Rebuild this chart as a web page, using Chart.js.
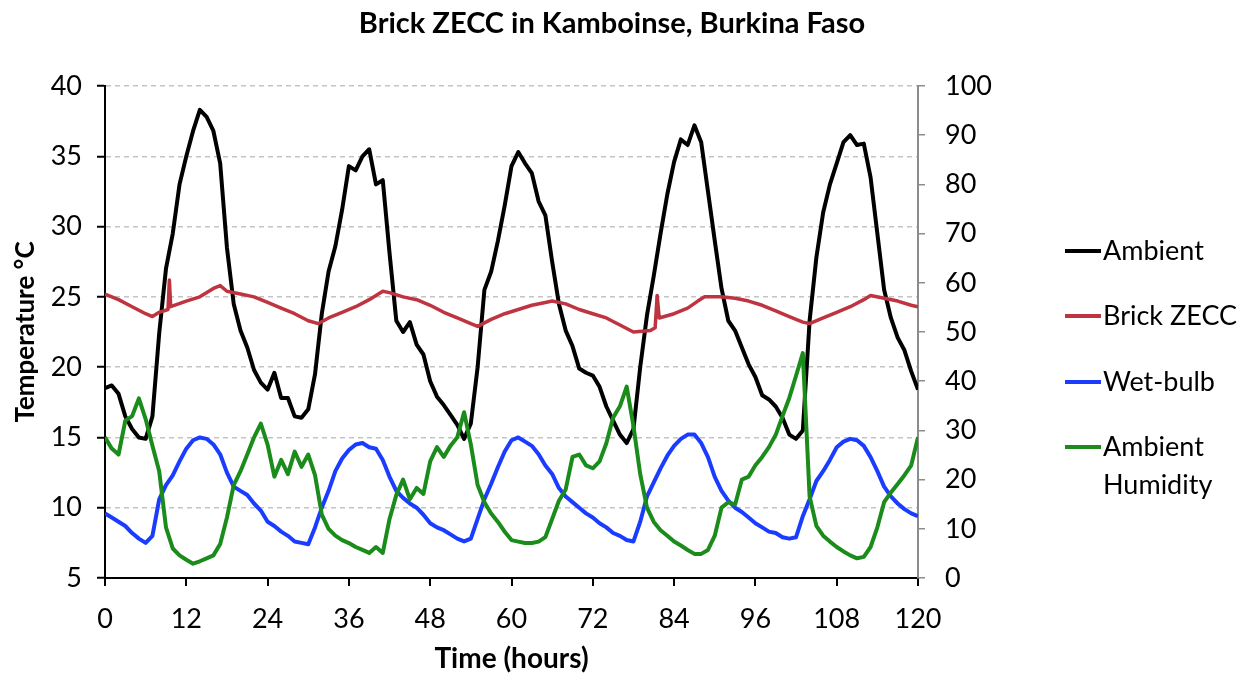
<!DOCTYPE html>
<html>
<head>
<meta charset="utf-8">
<script src="https://cdn.jsdelivr.net/npm/chart.js@4.4.1/dist/chart.umd.min.js"></script>
<style>
  html, body { margin: 0; padding: 0; background: #fff; }
  #wrap { width: 1246px; height: 677px; position: relative; }
</style>
</head>
<body>
<div id="wrap"><canvas id="chartZecc"></canvas></div>
<script>
const chartTitle = 'Brick ZECC in Kamboinse, Burkina Faso';
const seriesNames = ['Ambient', 'Brick ZECC', 'Wet-bulb', 'Ambient Humidity'];
const seriesColors = ['#000000', '#be3440', '#1a3cff', '#1b8c1b'];

// hourly readings, 0..120 h
const hours = Array.from({ length: 121 }, (_, i) => i);

const ambientTemp = [
    18.5, 18.7, 18.1, 16.5, 15.6, 15.0, 14.9, 16.5, 22.4, 27.0,
    29.5, 33.0, 35.0, 36.8, 38.3, 37.8, 36.8, 34.5, 28.5, 24.5,
    22.6, 21.4, 19.8, 18.9, 18.4, 19.6, 17.8, 17.8, 16.5, 16.4,
    17.0, 19.5, 23.8, 26.8, 28.6, 31.2, 34.3, 34.0, 35.0, 35.5,
    33.0, 33.3, 28.1, 23.3, 22.5, 23.2, 21.6, 20.9, 19.0, 17.9,
    17.3, 16.6, 15.9, 14.9, 16.0, 20.0, 25.5, 26.8, 29.0, 31.5,
    34.3, 35.3, 34.5, 33.8, 31.8, 30.8, 27.5, 24.5, 22.6, 21.5,
    19.9, 19.6, 19.4, 18.6, 17.2, 16.2, 15.2, 14.6, 15.6, 20.0,
    23.7, 26.5, 29.5, 32.3, 34.6, 36.2, 35.8, 37.2, 36.0, 32.5,
    29.0, 25.6, 23.3, 22.6, 21.4, 20.2, 19.3, 18.0, 17.7, 17.2,
    16.4, 15.2, 14.9, 15.5, 23.3, 27.8, 31.0, 33.0, 34.5, 36.0,
    36.5, 35.8, 35.9, 33.5, 29.5, 25.5, 23.5, 22.1, 21.2, 19.7,
    18.4
];

const wetBulbTemp = [
    9.6, 9.3, 9.0, 8.7, 8.2, 7.8, 7.5, 8.0, 10.6, 11.6,
    12.3, 13.3, 14.2, 14.8, 15.0, 14.9, 14.5, 13.8, 12.5, 11.5,
    11.2, 10.9, 10.3, 9.8, 9.0, 8.7, 8.3, 8.0, 7.6, 7.5,
    7.4, 8.6, 10.0, 11.2, 12.6, 13.5, 14.1, 14.5, 14.6, 14.3,
    14.2, 13.4, 12.2, 11.2, 10.7, 10.3, 10.0, 9.5, 8.9, 8.6,
    8.4, 8.1, 7.8, 7.6, 7.8, 9.2, 10.6, 11.7, 12.9, 14.0,
    14.8, 15.0, 14.7, 14.4, 13.8, 13.0, 12.4, 11.4, 10.8, 10.4,
    10.0, 9.6, 9.3, 8.9, 8.6, 8.2, 8.0, 7.7, 7.6, 9.0,
    10.8, 11.8, 12.8, 13.7, 14.4, 14.9, 15.2, 15.2, 14.6, 13.6,
    12.2, 11.2, 10.5, 10.0, 9.7, 9.3, 8.9, 8.6, 8.3, 8.2,
    7.9, 7.8, 7.9, 9.4, 10.6, 11.9, 12.6, 13.4, 14.3, 14.7,
    14.9, 14.8, 14.4, 13.6, 12.6, 11.5, 10.8, 10.3, 9.9, 9.6,
    9.4
];

// relative humidity, % (right axis)
const ambientHumidity = [
    28.6, 26.3, 25.1, 32.0, 32.9, 36.5, 32.3, 26.9, 21.7, 10.3,
    6.0, 4.6, 3.7, 2.9, 3.4, 4.0, 4.6, 6.9, 12.3, 18.9,
    21.7, 25.1, 28.6, 31.4, 27.1, 20.6, 24.0, 21.1, 25.7, 22.6,
    25.1, 20.9, 12.9, 10.0, 8.6, 7.7, 7.1, 6.3, 5.7, 5.1,
    6.3, 5.1, 12.0, 16.9, 20.0, 16.0, 18.3, 17.1, 23.7, 26.6,
    24.6, 26.9, 28.6, 33.7, 27.1, 18.9, 15.4, 13.1, 11.4, 9.4,
    7.7, 7.4, 7.1, 7.1, 7.4, 8.3, 12.0, 15.7, 18.0, 24.6,
    25.1, 22.9, 22.3, 23.7, 27.4, 32.6, 34.9, 38.9, 30.9, 21.1,
    14.3, 11.4, 9.7, 8.6, 7.4, 6.6, 5.7, 4.9, 4.9, 5.7,
    8.6, 14.3, 15.4, 14.9, 20.0, 20.6, 22.9, 24.6, 26.6, 29.1,
    32.9, 36.6, 41.1, 45.7, 16.6, 10.6, 8.6, 7.4, 6.3, 5.4,
    4.6, 4.0, 4.3, 6.3, 10.3, 15.4, 17.4, 19.1, 20.9, 22.9,
    28.6
];

// brick ZECC logged on its own time base (spikes when opened)
const brickHours = [
    0, 2, 4, 6, 7, 8, 9.3, 9.5, 9.7, 12, 14, 16, 17, 18, 20, 22, 24, 26, 28, 30,
    31.5, 33, 35, 37, 39, 41, 42, 44, 46, 48, 50, 52, 54, 55, 57, 59, 61, 63, 65, 66,
    68, 70, 72, 74, 76, 78, 80.5, 81.2, 81.5, 81.8, 84, 86, 87.5, 88.5, 91, 93, 95, 97, 99, 101,
    103, 104, 106, 108, 110, 112, 113, 115, 117, 119, 120
];
const brickTemp = [
    25.2, 24.8, 24.3, 23.8, 23.6, 23.9, 24.1, 26.2, 24.3, 24.7, 25.0, 25.6, 25.8, 25.4, 25.2, 25.0, 24.6, 24.2, 23.8, 23.3,
    23.1, 23.5, 23.9, 24.3, 24.8, 25.4, 25.3, 25.0, 24.8, 24.4, 23.9, 23.5, 23.1, 22.9, 23.4, 23.8, 24.1, 24.4, 24.6, 24.7,
    24.5, 24.1, 23.8, 23.5, 23.0, 22.5, 22.6, 22.8, 25.1, 23.5, 23.8, 24.2, 24.7, 25.0, 25.0, 24.9, 24.7, 24.4, 24.0, 23.6,
    23.2, 23.1, 23.5, 23.9, 24.3, 24.8, 25.1, 24.9, 24.7, 24.4, 24.3
];

const toPoints = (xs, ys) => xs.map((x, i) => ({ x: x, y: ys[i] }));

const lineStyle = (i, width) => ({
    borderColor: seriesColors[i],
    backgroundColor: seriesColors[i],
    borderWidth: width,
    pointRadius: 0,
    tension: 0,
    borderJoinStyle: 'round',
    fill: false
});

const baseFont = { family: 'Lato', size: 27 };
const boldFont = { family: 'Lato', size: 28, weight: 'bold' };

// title + legend drawn by hand (legend has a wrapped label)
const extras = {
    id: 'extras',
    afterDraw(chart) {
        const ctx = chart.ctx;
        ctx.save();
        ctx.fillStyle = '#000';
        ctx.font = 'bold 29px Lato';
        ctx.textAlign = 'center';
        ctx.textBaseline = 'middle';
        ctx.fillText(chartTitle, 612, 24);

        const rows = [251, 316, 382, 447];
        ctx.font = '27px Lato';
        ctx.textAlign = 'left';
        seriesNames.forEach((name, i) => {
            const y = rows[i];
            ctx.strokeStyle = seriesColors[i];
            ctx.lineWidth = 4;
            ctx.beginPath();
            ctx.moveTo(1065, y);
            ctx.lineTo(1101, y);
            ctx.stroke();
            const parts = name === 'Ambient Humidity' ? ['Ambient', 'Humidity'] : [name];
            parts.forEach((p, k) => ctx.fillText(p, 1103, y + k * 38));
        });
        ctx.restore();
    }
};

new Chart(document.getElementById('chartZecc'), {
    type: 'line',
    data: {
        datasets: [
            { label: seriesNames[0], data: toPoints(hours, ambientTemp), yAxisID: 'y', order: 4, ...lineStyle(0, 4) },
            { label: seriesNames[1], data: toPoints(brickHours, brickTemp), yAxisID: 'y', order: 3, ...lineStyle(1, 3.5) },
            { label: seriesNames[2], data: toPoints(hours, wetBulbTemp), yAxisID: 'y', order: 2, ...lineStyle(2, 4) },
            { label: seriesNames[3], data: toPoints(hours, ambientHumidity), yAxisID: 'y1', order: 1, ...lineStyle(3, 4) }
        ]
    },
    options: {
        responsive: true,
        maintainAspectRatio: false,
        animation: false,
        layout: { padding: { top: 86, left: 10, right: 248, bottom: 0 } },
        plugins: {
            legend: { display: false },
            tooltip: { enabled: false }
        },
        scales: {
            x: {
                type: 'linear',
                min: 0,
                max: 120,
                ticks: { stepSize: 12, color: '#000', font: baseFont, padding: 17, maxRotation: 0 },
                grid: { drawOnChartArea: false, color: '#000', tickLength: 8, lineWidth: 2 },
                border: { color: '#000', width: 2 },
                title: { display: true, text: 'Time (hours)', color: '#000', font: boldFont, padding: { top: 0, bottom: 1 } },
                afterFit: (s) => { s.height = 99; }
            },
            y: {
                position: 'left',
                min: 5,
                max: 40,
                ticks: { stepSize: 5, color: '#000', font: baseFont, padding: 15 },
                grid: { color: '#c4c4c4', lineWidth: 1.5, tickColor: '#000', tickLength: 8, tickWidth: 2 },
                border: { color: '#000', width: 2, dash: [5, 4] },
                title: { display: true, text: 'Temperature °C', color: '#000', font: { family: 'Lato', size: 26, weight: 'bold' }, padding: { top: 0, bottom: 0 } },
                afterFit: (s) => { s.width = 95; }
            },
            y1: {
                position: 'right',
                min: 0,
                max: 100,
                ticks: { stepSize: 10, color: '#000', font: baseFont, padding: 20 },
                grid: { drawOnChartArea: false, color: '#8c8c8c', tickLength: 7, lineWidth: 1.5 },
                border: { color: '#8c8c8c', width: 2 },
                afterFit: (s) => { s.width = 80; }
            }
        }
    },
    plugins: [extras]
});
</script>
</body>
</html>
